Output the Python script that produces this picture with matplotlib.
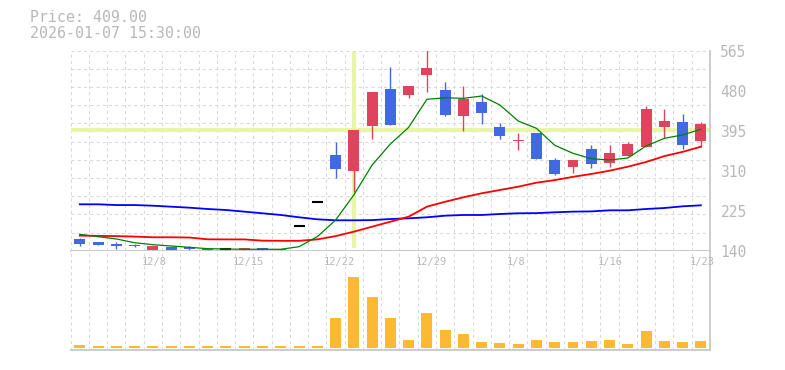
import matplotlib
matplotlib.use('Agg')
import matplotlib.pyplot as plt
import matplotlib.transforms as mtransforms
import numpy as np

# ---- data ----
dates = ['12/2', '12/3', '12/4', '12/5', '12/8', '12/9', '12/10', '12/11', '12/12',
         '12/15', '12/16', '12/17', '12/18', '12/19', '12/22', '12/23', '12/24', '12/25',
         '12/26', '12/29', '12/30', '1/5', '1/6', '1/7', '1/8', '1/9', '1/13', '1/14',
         '1/15', '1/16', '1/19', '1/20', '1/21', '1/22', '1/23']
tick_dates = ['12/8', '12/15', '12/22', '12/29', '1/8', '1/16', '1/23']

opens = [165, 158, 155, 153, 141, 148.5, 147, 144, 143, 140.5, 145, 144, 192.5, 243,
         343, 310, 406, 484, 471, 514, 481, 426, 456, 403, 372.5, 390, 333, 318, 356,
         327, 342, 361, 403.5, 413.5, 374]
highs = [167, 159, 158, 155, 151, 151, 150, 144.5, 144.5, 146, 146, 144.5, 192.5, 243,
         371, 397, 477, 530, 490, 566, 498, 490, 474, 412, 389.5, 391, 337, 333, 365,
         365, 371, 447, 442, 431, 413.5]
lows = [151, 151.5, 144, 148.5, 140, 140, 141, 140, 141, 140, 140, 140, 192.5, 243,
        295, 265, 377, 408, 465, 477, 426, 395, 410, 377, 354, 335, 301, 306, 316,
        318.5, 342, 361, 379, 357, 361]
closes = [155, 153, 151, 150, 150.5, 142, 144, 140.5, 143, 145.7, 140.5, 140.5, 192.5, 243,
          314, 397, 477, 408, 490, 528, 429, 462, 433, 384, 376, 335.5, 303, 333, 325,
          348, 367, 441, 416, 365, 409]

ma_short = [174.8, 169.8, 164.9, 157, 152.8, 150, 147.2, 144.3, 143.6, 143, 143, 143,
            148.5, 169.8, 205, 258.4, 322, 366.7, 402, 461.7, 465, 463.8, 468.7, 449.6,
            415.6, 400, 364, 347, 335.5, 332.7, 337, 362.5, 378.8, 386, 398]
ma_mid = [172, 171.5, 171, 170, 168.5, 168.5, 168, 164.2, 164, 164, 161.3, 161, 161,
          164, 171, 180.4, 191, 201.6, 212.3, 233.5, 244, 253.5, 262, 269, 276, 284.5,
          290, 297, 303, 310, 318.5, 328.5, 341, 350, 361]
ma_long = [238.6, 238.6, 237, 237, 235.6, 233.5, 231.4, 228.6, 226.5, 223, 219.5, 215.9,
           211, 206.7, 204.6, 204.6, 205, 207.3, 208.8, 211, 214.4, 215.9, 215.9, 218,
           219.5, 219.8, 221.6, 223, 223.5, 225.8, 225.8, 228.6, 230.7, 234.3, 236.4]

volumes = [27, 17, 17, 17, 17, 17, 17, 17, 17, 17, 17, 17, 17, 17,
           297, 707, 507, 297, 77, 347, 177, 137, 57, 47, 37, 77, 57, 57, 67, 77,
           37, 167, 67, 57, 67]

price_ticks = [140, 225, 310, 395, 480, 565]
title_lines = ['Price: 409.00', '2026-01-07 15:30:00']
cross_index = 15
cross_price = 396.5

# ---- styles ----
UP = '#e0435e'
DOWN = '#4169e1'
GRID = '#d9d9d9'
SPINE = '#c4c4c4'
TXT = '#b8b8b8'
MONO = 'DejaVu Sans Mono'

W, H = 785, 370
fig = plt.figure(figsize=(W / 100, H / 100), dpi=100)
fig.patch.set_facecolor('white')

L, R = 70.7, 710.0
ax = fig.add_axes([L / W, (H - 250.7) / H, (R - L) / W, 200 / H])
axv = fig.add_axes([L / W, (H - 350) / H, (R - L) / W, 99.3 / H])

n = len(dates)
x = np.arange(n)

for a in (ax, axv):
    a.set_xlim(-0.5, n - 0.5)
    for s in ('top', 'left'):
        a.spines[s].set_visible(False)
    for s in ('right', 'bottom'):
        a.spines[s].set_color(SPINE)
        a.spines[s].set_linewidth(1.2)
    for k in range(n):
        a.axvline(k - 0.5, color=GRID, lw=0.75, ls=(0, (3, 3)), zorder=0)
    a.tick_params(bottom=False, labelbottom=False, left=False, labelleft=False)

# main price panel
ax.set_ylim(price_ticks[0], price_ticks[-1])
for yv in np.linspace(price_ticks[0], price_ticks[-1], 12)[1:]:
    ax.axhline(yv, color=GRID, lw=0.75, ls=(0, (3, 3)), zorder=0)

# crosshair
ax.axhline(cross_price, color='#e6f5a8', lw=3, zorder=1)
ax.plot([cross_index, cross_index], [price_ticks[0] + 6, price_ticks[-1] - 2],
        color='#e6f5a8', lw=3, zorder=1, solid_capstyle='butt')

for i in range(n):
    o, h, l, c = opens[i], highs[i], lows[i], closes[i]
    if c > o:
        col = UP
    elif c < o:
        col = DOWN
    else:
        col = 'black'
    if col == 'black':
        ax.vlines(i, l, h, color=col, lw=1, zorder=2)
        ax.hlines(o, i - 0.3, i + 0.3, color=col, lw=1.5, zorder=3)
    else:
        ax.vlines(i, l, h, color=col, lw=1, zorder=2)
        ax.bar(i, abs(c - o), bottom=min(o, c), width=0.6, color=col, zorder=3,
               linewidth=0)

ax.plot(x, ma_long, color='#0000ff', lw=1.3, zorder=4)
ax.plot(x, ma_mid, color='#ff0000', lw=1.3, zorder=4)
ax.plot(x, ma_short, color='#008000', lw=0.9, zorder=5)

ax.yaxis.tick_right()
ax.set_yticks(price_ticks)
ax.set_yticklabels([str(v) for v in price_ticks], fontfamily=MONO)
ax.tick_params(axis='y', right=False, length=0, pad=7.5, labelsize=10.5,
               labelcolor=TXT, labelright=True)

# volume panel
axv.set_ylim(-23, 970)
axv.bar(x, volumes, width=0.6, color='#fdb933', linewidth=0, zorder=2)
axv.set_yticks([])

# date labels
trans = mtransforms.blended_transform_factory(ax.transData, fig.transFigure)
for lab in tick_dates:
    i = dates.index(lab)
    fig.text(i - 0.63, 1 - 261.7 / H, lab, transform=trans, ha='left', va='center',
             fontsize=7.5, color=TXT, fontfamily=MONO)

# header
fig.text(30 / W, 1 - 18 / H, title_lines[0], ha='left', va='center', fontsize=10.7,
         color=TXT, fontfamily=MONO)
fig.text(30 / W, 1 - 33 / H, title_lines[1], ha='left', va='center', fontsize=10.7,
         color=TXT, fontfamily=MONO)

fig.savefig('out.png', dpi=100, facecolor='white')
